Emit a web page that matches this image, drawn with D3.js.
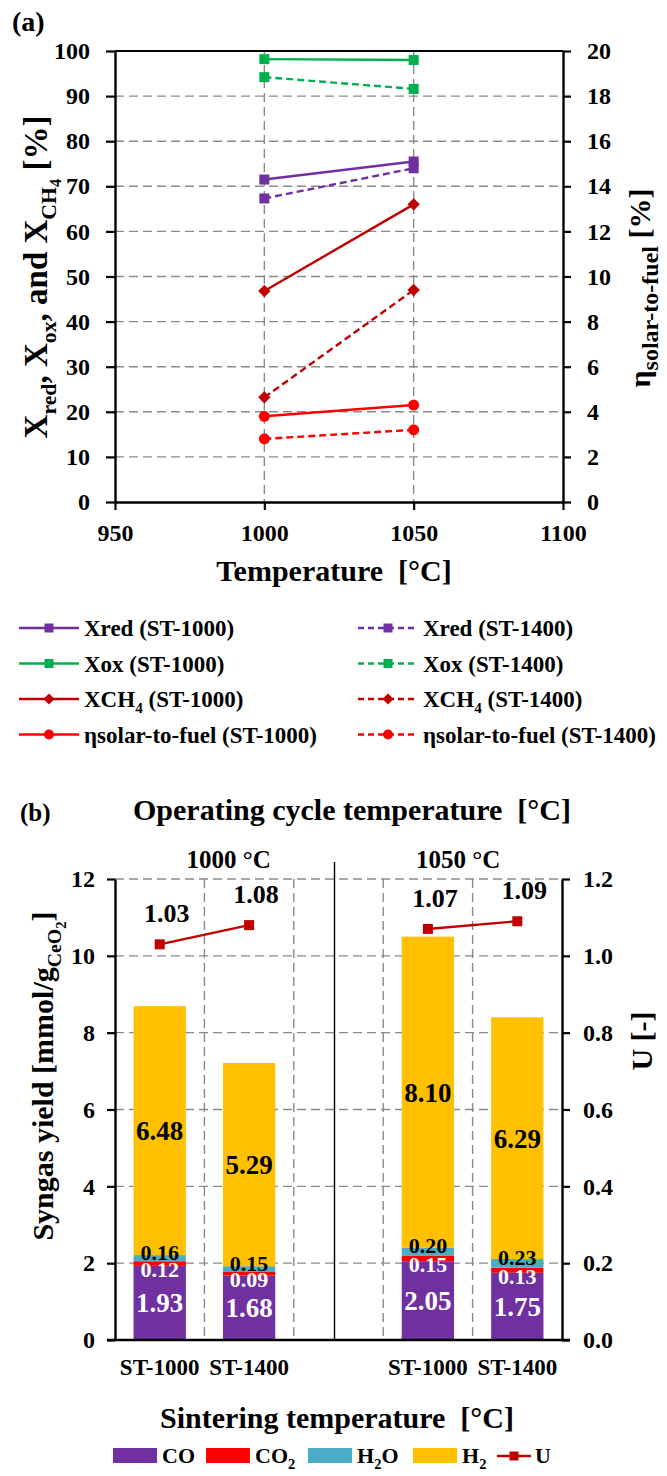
<!DOCTYPE html>
<html><head><meta charset="utf-8">
<script src="https://cdn.jsdelivr.net/npm/d3@7"></script>
<style>
body{margin:0;background:#fff;}
svg text{font-family:"Liberation Serif","Times New Roman",serif;font-weight:bold;fill:#000;}
</style></head><body>
<svg id="c" width="667" height="1476"></svg>
<script>
// ---------- DATA (a) ----------
const tempTicks = [950, 1000, 1050, 1100];
const temps = [1000, 1050];
const leftTicks = [0,10,20,30,40,50,60,70,80,90,100];
const rightTicks = [0,2,4,6,8,10,12,14,16,18,20];
const xredST1000 = [71.5, 75.5];
const xredST1400 = [67.3, 74.0];
const xoxST1000  = [98.2, 98.0];
const xoxST1400  = [94.2, 91.6];
const xch4ST1000 = [46.8, 66.0];
const xch4ST1400 = [23.2, 47.0];
const etaST1000  = [3.8, 4.3];
const etaST1400  = [2.8, 3.2];

// ---------- DATA (b) ----------
const sinterCats = ["ST-1000", "ST-1400", "", "ST-1000", "ST-1400"];
const opGroups = ["1000 °C", "1050 °C"];
const coVals  = [1.93, 1.68, null, 2.05, 1.75];
const co2Vals = [0.12, 0.09, null, 0.15, 0.13];
const h2oVals = [0.16, 0.15, null, 0.20, 0.23];
const h2Vals  = [6.48, 5.29, null, 8.10, 6.29];
const uVals   = [1.03, 1.08, null, 1.07, 1.09];
const yieldTicks = [0,2,4,6,8,10,12];
const uTicks = [0,0.2,0.4,0.6,0.8,1.0,1.2];

const svg = d3.select("#c");
const GRID = "#8a8a8a";
const DASH = "9,5";

function rich(sel, parts, size, subR){
  const r = subR || 0.66;
  let cur = 0;
  parts.forEach(p => {
    const lvl = p.s || 0;
    const off = [0, 0.28, 0.42][lvl] * size;
    const fs = [1, r, r*0.75][lvl] * size;
    sel.append("tspan").attr("dy", off - cur).attr("font-size", fs).text(p.t);
    cur = off;
  });
  return sel;
}

function marker(g, type, cx, cy, color, sz){
  if (type === "square") {
    g.append("rect").attr("x", cx - sz/2).attr("y", cy - sz/2).attr("width", sz).attr("height", sz).attr("fill", color);
  } else if (type === "diamond") {
    const s = sz * 0.62;
    g.append("path").attr("d", `M${cx},${cy-s}L${cx+s},${cy}L${cx},${cy+s}L${cx-s},${cy}Z`).attr("fill", color);
  } else {
    g.append("circle").attr("cx", cx).attr("cy", cy).attr("r", sz*0.55).attr("fill", color);
  }
}

function styleAxis(g, fs){
  g.select(".domain").attr("stroke", "#000").attr("stroke-width", 2.4);
  g.selectAll(".tick line").attr("stroke", "#000").attr("stroke-width", 2.2);
  g.selectAll(".tick text").attr("font-size", fs).attr("font-family", "Liberation Serif").attr("font-weight", "bold").attr("fill", "#000");
}

// ================= CHART (a) =================
const A = {l:115, r:563, t:51, b:502};
const xA = d3.scaleLinear().domain([950, 1100]).range([A.l, A.r]);
const yA = d3.scaleLinear().domain([0, 100]).range([A.b, A.t]);
const yA2 = d3.scaleLinear().domain([0, 20]).range([A.b, A.t]);

const ga = svg.append("g");
ga.append("text").attr("x", 12).attr("y", 31).attr("font-size", 28).text("(a)");

// grid
ga.append("g").selectAll("line").data(leftTicks.filter(d => d > 0 && d < 100)).join("line")
  .attr("x1", A.l).attr("x2", A.r).attr("y1", d => yA(d)).attr("y2", d => yA(d))
  .attr("stroke", GRID).attr("stroke-width", 1.4).attr("stroke-dasharray", DASH);
ga.append("g").selectAll("line").data(temps).join("line")
  .attr("x1", d => xA(d)).attr("x2", d => xA(d)).attr("y1", A.t).attr("y2", A.b)
  .attr("stroke", GRID).attr("stroke-width", 1.4).attr("stroke-dasharray", DASH);
// top border
ga.append("line").attr("x1", A.l).attr("x2", A.r).attr("y1", A.t).attr("y2", A.t).attr("stroke", "#000").attr("stroke-width", 2.2);

const axL = ga.append("g").attr("transform", `translate(${A.l},0)`)
  .call(d3.axisLeft(yA).tickValues(leftTicks).tickSize(9).tickSizeOuter(0).tickPadding(16));
styleAxis(axL, 24);
const axR = ga.append("g").attr("transform", `translate(${A.r},0)`)
  .call(d3.axisRight(yA2).tickValues(rightTicks).tickSize(8).tickSizeOuter(0).tickPadding(16));
styleAxis(axR, 24);
const axB = ga.append("g").attr("transform", `translate(0,${A.b})`)
  .call(d3.axisBottom(xA).tickValues(tempTicks).tickFormat(d3.format("d")).tickSize(8).tickSizeOuter(0).tickPadding(14));
styleAxis(axB, 24);

// titles
ga.append("text").attr("x", 334).attr("y", 581).attr("text-anchor", "middle").attr("font-size", 30).attr("xml:space", "preserve").text("Temperature  [°C]");
rich(ga.append("text").attr("transform", "translate(47,277) rotate(-90)").attr("text-anchor", "middle").attr("font-size", 33),
  [{t:"X"},{t:"red",s:1},{t:", X"},{t:"ox",s:1},{t:", and X"},{t:"CH",s:1},{t:"4",s:2},{t:" [%]"}], 33);
rich(ga.append("text").attr("transform", "translate(650,288) rotate(-90)").attr("text-anchor", "middle").attr("font-size", 30),
  [{t:"η"},{t:"solar-to-fuel",s:1},{t:" [%]"}], 30, 0.8);

const seriesA = [
  {lp:[{t:"Xred (ST-1000)"}], v:xredST1000, ax:yA, c:"#7030A0", dash:null, m:"square"},
  {lp:[{t:"Xred (ST-1400)"}], v:xredST1400, ax:yA, c:"#7030A0", dash:"7,4", m:"square"},
  {lp:[{t:"Xox (ST-1000)"}], v:xoxST1000, ax:yA, c:"#00B050", dash:null, m:"square"},
  {lp:[{t:"Xox (ST-1400)"}], v:xoxST1400, ax:yA, c:"#00B050", dash:"7,4", m:"square"},
  {lp:[{t:"XCH"},{t:"4",s:1},{t:" (ST-1000)"}], v:xch4ST1000, ax:yA, c:"#C00000", dash:null, m:"diamond"},
  {lp:[{t:"XCH"},{t:"4",s:1},{t:" (ST-1400)"}], v:xch4ST1400, ax:yA, c:"#C00000", dash:"7,4", m:"diamond"},
  {lp:[{t:"ηsolar-to-fuel (ST-1000)"}], v:etaST1000, ax:yA2, c:"#FF0000", dash:null, m:"circle"},
  {lp:[{t:"ηsolar-to-fuel (ST-1400)"}], v:etaST1400, ax:yA2, c:"#FF0000", dash:"7,4", m:"circle"}
];
const lineGen = (ax) => d3.line().x((d,i) => xA(temps[i])).y(d => ax(d));
seriesA.forEach(s => {
  ga.append("path").datum(s.v).attr("d", lineGen(s.ax)).attr("fill", "none")
    .attr("stroke", s.c).attr("stroke-width", 2.4).attr("stroke-dasharray", s.dash);
  s.v.forEach((d,i) => marker(ga, s.m, xA(temps[i]), s.ax(d), s.c, 10));
});

// legend (a)
const legA = svg.append("g");
seriesA.forEach((s, i) => {
  const col = i % 2, row = Math.floor(i / 2);
  const x0 = col === 0 ? 19 : 358, y0 = 628 + row * 35.5;
  const lw = 60;
  legA.append("line").attr("x1", x0).attr("x2", x0 + lw).attr("y1", y0).attr("y2", y0)
    .attr("stroke", s.c).attr("stroke-width", 2.4).attr("stroke-dasharray", s.dash ? "6,4" : null);
  marker(legA, s.m, x0 + lw/2, y0, s.c, 9);
  rich(legA.append("text").attr("x", x0 + lw + 5).attr("y", y0 + 8).attr("font-size", 23), s.lp, 23);
});

// ================= CHART (b) =================
const B = {l:115, r:562, t:879, b:1340};
const xB = d3.scaleBand().domain(d3.range(sinterCats.length)).range([B.l, B.r]);
const yB = d3.scaleLinear().domain([0, 12]).range([B.b, B.t]);
const yB2 = d3.scaleLinear().domain([0, 1.2]).range([B.b, B.t]);
const gb = svg.append("g");

gb.append("text").attr("x", 20).attr("y", 821).attr("font-size", 25).text("(b)");
gb.append("text").attr("x", 352).attr("y", 820).attr("text-anchor", "middle").attr("font-size", 30).attr("xml:space", "preserve").text("Operating cycle temperature  [°C]");

// grid
gb.append("g").selectAll("line").data(yieldTicks.filter(d => d > 0)).join("line")
  .attr("x1", B.l).attr("x2", B.r).attr("y1", d => yB(d)).attr("y2", d => yB(d))
  .attr("stroke", GRID).attr("stroke-width", 1.4).attr("stroke-dasharray", DASH);
gb.append("g").selectAll("line").data(d3.range(1, sinterCats.length)).join("line")
  .attr("x1", d => xB(d)).attr("x2", d => xB(d)).attr("y1", B.t).attr("y2", B.b)
  .attr("stroke", GRID).attr("stroke-width", 1.4).attr("stroke-dasharray", DASH);

// stacked bars
const stackSeries = [
  {v:coVals,  c:"#7030A0", tc:"#fff", fs:27, off:0},
  {v:co2Vals, c:"#FF0000", tc:"#fff", fs:22, off:6},
  {v:h2oVals, c:"#4BACC6", tc:"#000", fs:22, off:-6},
  {v:h2Vals,  c:"#FFC000", tc:"#000", fs:27, off:0}
];
const bw = xB.bandwidth() * 0.585;
sinterCats.forEach((cat, i) => {
  let base = 0;
  stackSeries.forEach(s => {
    const v = s.v[i];
    if (v == null) return;
    const cx = xB(i) + xB.bandwidth()/2;
    gb.append("rect").attr("x", cx - bw/2).attr("width", bw)
      .attr("y", yB(base + v)).attr("height", yB(base) - yB(base + v)).attr("fill", s.c);
    base += v;
  });
});
sinterCats.forEach((cat, i) => {
  let base = 0;
  stackSeries.forEach(s => {
    const v = s.v[i];
    if (v == null) return;
    const cx = xB(i) + xB.bandwidth()/2;
    const cy = (yB(base) + yB(base + v)) / 2 + s.off;
    gb.append("text").attr("x", cx).attr("y", cy).attr("dy", "0.35em").attr("text-anchor", "middle")
      .attr("font-size", s.fs).style("fill", s.tc).text(v.toFixed(2));
    base += v;
  });
});

// axes
const bL = gb.append("g").attr("transform", `translate(${B.l},0)`)
  .call(d3.axisLeft(yB).tickValues(yieldTicks).tickSize(8).tickSizeOuter(0).tickPadding(12));
styleAxis(bL, 24);
const bR = gb.append("g").attr("transform", `translate(${B.r},0)`)
  .call(d3.axisRight(yB2).tickValues(uTicks).tickFormat(d3.format(".1f")).tickSize(8).tickSizeOuter(0).tickPadding(13));
styleAxis(bR, 24);
gb.append("line").attr("x1", B.l - 8).attr("x2", B.r + 8).attr("y1", B.b).attr("y2", B.b).attr("stroke", "#000").attr("stroke-width", 2.6);

// divider between operating temperatures
const divX = xB(2) + xB.bandwidth()/2 - 4;
gb.append("line").attr("x1", divX).attr("x2", divX).attr("y1", 862).attr("y2", B.b).attr("stroke", "#000").attr("stroke-width", 1.4);

// group labels
opGroups.forEach((g, k) => {
  const cx = k === 0 ? (B.l + divX)/2 + 4 : (divX + B.r)/2 + 10;
  gb.append("text").attr("x", cx).attr("y", 868).attr("text-anchor", "middle").attr("font-size", 25).text(g);
});

// category labels
sinterCats.forEach((c, i) => {
  gb.append("text").attr("x", xB(i) + xB.bandwidth()/2).attr("y", 1375).attr("text-anchor", "middle").attr("font-size", 23).text(c);
});
gb.append("text").attr("x", 337).attr("y", 1428).attr("text-anchor", "middle").attr("font-size", 30).attr("xml:space", "preserve").text("Sintering temperature  [°C]");

// U line (segments per operating temperature)
const uLine = d3.line().defined(d => d.v != null).x(d => xB(d.i) + xB.bandwidth()/2).y(d => yB2(d.v));
const uPts = uVals.map((v, i) => ({v, i}));
gb.append("path").datum(uPts).attr("d", uLine).attr("fill", "none").attr("stroke", "#C00000").attr("stroke-width", 2.4);
uPts.filter(d => d.v != null).forEach(d => {
  const cx = xB(d.i) + xB.bandwidth()/2, cy = yB2(d.v);
  marker(gb, "square", cx, cy, "#C00000", 10);
  gb.append("text").attr("x", cx + 7).attr("y", cy - 22).attr("text-anchor", "middle").attr("font-size", 26).text(d.v.toFixed(2));
});

// legend (b)
const legB = [
  {parts:[{t:"CO"}], c:"#7030A0", type:"rect", x:113},
  {parts:[{t:"CO"},{t:"2",s:1}], c:"#FF0000", type:"rect", x:206},
  {parts:[{t:"H"},{t:"2",s:1},{t:"O"}], c:"#4BACC6", type:"rect", x:308},
  {parts:[{t:"H"},{t:"2",s:1}], c:"#FFC000", type:"rect", x:413},
  {parts:[{t:"U"}], c:"#C00000", type:"line", x:497}
];
const ly = 1456;
legB.forEach(e => {
  if (e.type === "rect") {
    svg.append("rect").attr("x", e.x).attr("y", ly - 8).attr("width", 44).attr("height", 15).attr("fill", e.c);
  } else {
    svg.append("line").attr("x1", e.x).attr("x2", e.x + 34).attr("y1", ly).attr("y2", ly).attr("stroke", e.c).attr("stroke-width", 2.4);
    marker(svg, "square", e.x + 17, ly, e.c, 9);
  }
  rich(svg.append("text").attr("x", e.x + (e.type === "rect" ? 49 : 38)).attr("y", ly + 7).attr("font-size", 22), e.parts, 22);
});

// (b) axis titles
rich(gb.append("text").attr("transform", "translate(53,1076) rotate(-90)").attr("text-anchor", "middle").attr("font-size", 30),
  [{t:"Syngas yield [mmol/g"},{t:"CeO",s:1},{t:"2",s:2},{t:"]"}], 30);
gb.append("text").attr("transform", "translate(652,1041) rotate(-90)").attr("text-anchor", "middle").attr("font-size", 30).attr("font-weight", "normal").text("U [-]");
</script>
</body></html>
